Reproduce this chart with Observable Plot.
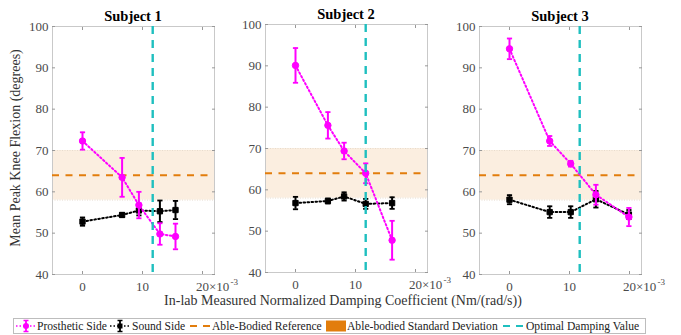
<!DOCTYPE html>
<html>
<head>
<meta charset="utf-8">
<script src="https://cdn.jsdelivr.net/npm/d3@7"></script>
<script src="https://cdn.jsdelivr.net/npm/@observablehq/plot@0.6"></script>
<style>
  body { margin: 0; background: #fff; }
  #wrap { position: relative; width: 681px; height: 335px; overflow: hidden; background: #fff;
          font-family: "Liberation Serif", "Times New Roman", serif; }
  .panel { position: absolute; top: 0; }
  .title { position: absolute; font-family: "Liberation Serif", serif; font-weight: bold; font-size: 14.5px; color: #000; transform: translate(-50%, -50%); white-space: nowrap; }
  .ylab { position: absolute; left: 16px; top: 148px; font-size: 14px; color: #333; transform: translate(-50%, -50%) rotate(-90deg); white-space: nowrap; }
  .xlab { position: absolute; left: 343px; top: 301px; font-size: 14px; color: #333; transform: translate(-50%, -50%); white-space: nowrap; }
  #legend { position: absolute; left: 13px; top: 318px; width: 631px; height: 14px; border: 1px solid #bdbdbd; background: #fff; }
  #legend .lt { position: absolute; top: 7px; transform: translateY(-50%); font-family: "Liberation Serif", serif; font-size: 11.6px; color: #222; white-space: nowrap; }
  #legend svg { position: absolute; top: 0; }
</style>
</head>
<body>
<div id="wrap"></div>
<script>
// ---- data (damping in units of 10^-3 Nm/(rad/s)) ----
const subjects = ["Subject 1", "Subject 2", "Subject 3"];
const damping = [
  [0, 6.6, 9.4, 12.9, 15.5],
  [0, 5.4, 8.1, 11.7, 16.1],
  [0, 6.7, 10.2, 14.4, 19.9]
];
const prostheticMean = [
  [72.3, 63.5, 56.8, 49.8, 49.2],
  [90.1, 75.6, 69.4, 64.0, 47.8],
  [94.6, 72.3, 66.8, 59.3, 53.9]
];
const prostheticSD = [
  [2.1, 4.7, 3.2, 2.6, 3.1],
  [4.2, 3.2, 2.0, 2.4, 4.7],
  [2.5, 1.2, 0.7, 2.4, 2.2]
];
const soundMean = [
  [52.8, 54.4, 55.5, 55.3, 55.6],
  [56.8, 57.3, 58.4, 56.6, 56.8],
  [58.1, 55.1, 55.1, 58.2, 54.5]
];
const soundSD = [
  [1.0, 0.5, 1.2, 2.6, 2.2],
  [1.5, 0.6, 1.0, 1.2, 1.4],
  [1.1, 1.4, 1.4, 2.0, 1.1]
];
const ableBodiedReference = 64;
const ableBodiedSD = 6;
const optimalDamping = 11.7;
const xTicks = [0, 10, 20];
const yTicks = [40, 50, 60, 70, 80, 90, 100];
const xExponentBase = "20×10";
const xExponent = "-3";
const legendLabels = ["Prosthetic Side", "Sound Side", "Able-Bodied Reference", "Able-bodied Standard Deviation", "Optimal Damping Value"];

// ---- styling ----
const MAGENTA = "#ff00ff", BLACK = "#000000", ORANGE = "#e27d0c", CYAN = "#1fbfbf", BAND = "#fbeee0";
const FONT = "'Liberation Serif', 'Times New Roman', serif";

const cap = { draw(ctx, size) { const w = Math.sqrt(size / Math.PI); ctx.moveTo(-w, 0); ctx.lineTo(w, 0); } };

const wrap = document.getElementById("wrap");
const panelLefts = [0, 213, 427];
const panelTops = [26, 24, 26];
const W = 240, H = 300, ML = 52, MR = 26, FRAMEH = 248;

subjects.forEach((name, i) => {
  const P = damping[i].map((x, j) => ({x, y: prostheticMean[i][j], sd: prostheticSD[i][j]}));
  const S = damping[i].map((x, j) => ({x, y: soundMean[i][j], sd: soundSD[i][j]}));
  const top = panelTops[i];
  const errMarks = (D, color, symbol, r) => [
    Plot.line(D, {x: "x", y: "y", stroke: color, strokeWidth: 2, strokeDasharray: "1.6,2.4"}),
    Plot.ruleX(D, {x: "x", y1: d => d.y - d.sd, y2: d => d.y + d.sd, stroke: color, strokeWidth: 2}),
    Plot.dot(D, {x: "x", y: d => d.y - d.sd, symbol: cap, r: 2.6, stroke: color, strokeWidth: 1.8}),
    Plot.dot(D, {x: "x", y: d => d.y + d.sd, symbol: cap, r: 2.6, stroke: color, strokeWidth: 1.8}),
    Plot.dot(D, {x: "x", y: "y", symbol, r, fill: color, stroke: color, strokeWidth: 1})
  ];
  const chart = Plot.plot({
    width: W, height: H,
    marginLeft: ML, marginRight: MR, marginTop: top, marginBottom: H - top - FRAMEH,
    style: {background: "none", overflow: "visible", fontFamily: FONT, fontSize: "13px", color: "#4a4a4a"},
    x: {domain: [-5, 22], label: null},
    y: {domain: [40, 100], label: null},
    marks: [
      Plot.rect([{lo: ableBodiedReference - ableBodiedSD, hi: ableBodiedReference + ableBodiedSD}], {y1: "lo", y2: "hi", fill: BAND}),
      Plot.ruleY([ableBodiedReference - ableBodiedSD, ableBodiedReference + ableBodiedSD], {stroke: "#e2d6c8", strokeWidth: 0.8, strokeDasharray: "1,1.5"}),
      Plot.frame({stroke: "#c9c9c9"}),
      Plot.axisY({ticks: yTicks, tickSize: -3, tickPadding: 7, stroke: "#999", label: null, tickFormat: d => d}),
      Plot.axisY({anchor: "right", ticks: yTicks, tickSize: -3, stroke: "#999", label: null, tickFormat: () => ""}),
      Plot.axisX({ticks: xTicks, tickSize: -3, tickPadding: 10, stroke: "#999", label: null, tickFormat: d => d === 20 ? "" : d}),
      Plot.axisX({anchor: "top", ticks: xTicks, tickSize: -3, stroke: "#999", label: null, tickFormat: () => ""}),
      Plot.text([xExponentBase], {x: 20, frameAnchor: "bottom", dy: 7, lineAnchor: "top", textAnchor: "start", dx: -6.5, text: d => d, fill: "#4a4a4a", fontSize: 13}),
      Plot.text([xExponent], {x: 20, frameAnchor: "bottom", dy: 4, lineAnchor: "top", textAnchor: "start", dx: 28, text: d => d, fill: "#4a4a4a", fontSize: 9}),
      Plot.ruleY([ableBodiedReference], {stroke: ORANGE, strokeWidth: 2, strokeDasharray: "7,6.5"}),
      ...errMarks(S, BLACK, "square", 3.0),
      ...errMarks(P, MAGENTA, "circle", 3.2),
      Plot.ruleX([optimalDamping], {stroke: CYAN, strokeWidth: 2.4, strokeDasharray: "8,6"})
    ]
  });
  const div = document.createElement("div");
  div.className = "panel";
  div.style.left = panelLefts[i] + "px";
  div.appendChild(chart);
  wrap.appendChild(div);
  const t = document.createElement("div");
  t.className = "title";
  t.textContent = name;
  t.style.left = (panelLefts[i] + ML + (W - ML - MR) / 2) + "px";
  t.style.top = (top - 10) + "px";
  wrap.appendChild(t);
});

const yl = document.createElement("div"); yl.className = "ylab"; yl.textContent = "Mean Peak Knee Flexion (degrees)"; wrap.appendChild(yl);
const xl = document.createElement("div"); xl.className = "xlab"; xl.textContent = "In-lab Measured Normalized Damping Coefficient (Nm/(rad/s))"; wrap.appendChild(xl);

// ---- legend ----
const lg = document.createElement("div"); lg.id = "legend"; wrap.appendChild(lg);
const ns = "http://www.w3.org/2000/svg";
function sw(left, width, inner) {
  const s = document.createElementNS(ns, "svg");
  s.setAttribute("width", width); s.setAttribute("height", 14);
  s.style.left = left + "px";
  s.innerHTML = inner;
  lg.appendChild(s);
}
function lt(left, text) {
  const d = document.createElement("div"); d.className = "lt"; d.style.left = left + "px"; d.textContent = text; lg.appendChild(d);
}
const errSw = (c, m) => `<line x1="1" y1="7" x2="21" y2="7" stroke="${c}" stroke-width="1.5" stroke-dasharray="1.5,2"/>
  <line x1="11" y1="1.5" x2="11" y2="12.5" stroke="${c}" stroke-width="1.8"/>
  <line x1="8.5" y1="1.5" x2="13.5" y2="1.5" stroke="${c}" stroke-width="1.5"/>
  <line x1="8.5" y1="12.5" x2="13.5" y2="12.5" stroke="${c}" stroke-width="1.5"/>${m}`;
sw(1, 22, errSw(MAGENTA, `<circle cx="11" cy="7" r="3" fill="${MAGENTA}"/>`));
lt(23, legendLabels[0]);
sw(95, 22, errSw(BLACK, `<rect x="8.5" y="4.5" width="5" height="5" fill="${BLACK}"/>`));
lt(118, legendLabels[1]);
sw(176, 22, `<line x1="0" y1="7" x2="21" y2="7" stroke="${ORANGE}" stroke-width="2" stroke-dasharray="7,6"/>`);
lt(198, legendLabels[2]);
sw(312, 20, `<rect x="0" y="1.5" width="20" height="11" fill="${ORANGE}"/>`);
lt(333, legendLabels[3]);
sw(489, 22, `<line x1="0" y1="7" x2="21" y2="7" stroke="${CYAN}" stroke-width="2" stroke-dasharray="7,6"/>`);
lt(512, legendLabels[4]);
</script>
</body>
</html>
